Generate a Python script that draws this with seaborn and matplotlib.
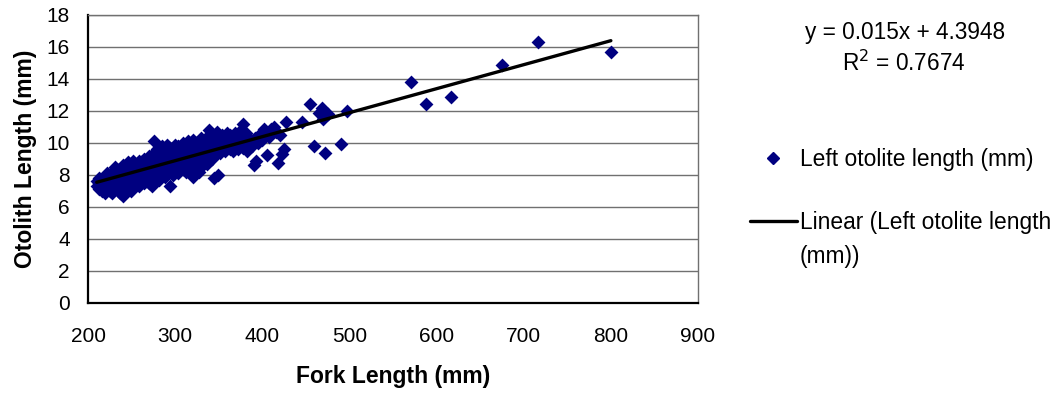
import matplotlib
matplotlib.use("Agg")
import matplotlib.pyplot as plt
from matplotlib.lines import Line2D
import numpy as np
import pandas as pd
import seaborn as sns

# Fork length (mm) and left otolith length (mm) for each fish
fork_length = [
    210, 210, 213, 213, 213, 216, 216, 216, 219, 219, 219,
    222, 222, 222, 222, 225, 225, 225, 225, 228, 228, 228, 228,
    231, 231, 231, 231, 234, 234, 234, 234, 237, 237, 237, 237,
    240, 240, 240, 240, 240, 243, 243, 243, 243, 246, 246, 246, 246, 246,
    249, 249, 249, 249, 252, 252, 252, 252, 252, 255, 255, 255, 255,
    258, 258, 258, 258, 258, 261, 261, 261, 261, 264, 264, 264, 264, 264,
    267, 267, 267, 267, 270, 270, 270, 270, 270, 273, 273, 273, 273, 273,
    276, 276, 276, 276, 276, 279, 279, 279, 279, 279, 282, 282, 282, 282, 282,
    285, 285, 285, 285, 285, 288, 288, 288, 288, 288, 291, 291, 291, 291, 291,
    294, 294, 294, 294, 294, 297, 297, 297, 297, 297, 300, 300, 300, 300, 300,
    303, 303, 303, 303, 303, 306, 306, 306, 306, 306, 309, 309, 309, 309, 309,
    312, 312, 312, 312, 312, 315, 315, 315, 315, 315, 318, 318, 318, 318, 318,
    321, 321, 321, 321, 321, 324, 324, 324, 324, 324, 327, 327, 327, 327, 327,
    330, 330, 330, 330, 330, 333, 333, 333, 333, 336, 336, 336, 336,
    339, 339, 339, 339, 339, 342, 342, 342, 342, 345, 345, 345, 345, 349,
    348, 348, 348, 348, 351, 351, 351, 351, 354, 354, 354,
    357, 357, 357, 357, 360, 360, 360, 363, 363, 363, 366, 366, 366,
    369, 369, 369, 372, 372, 372, 375, 375, 375, 378, 378, 378,
    381, 381, 384, 384, 383, 385, 388, 391, 393, 392, 395, 398, 400,
    402, 405, 408, 410, 413, 416, 418, 420, 423, 425, 427,
    445, 455, 459, 465, 468, 470, 472, 475, 490, 497,
    571, 588, 617, 675, 716, 800,
]
otolith_length = [
    7.6, 7.3, 7.5, 7.1, 7.8, 7.2, 7.6, 7.0, 7.4, 7.9, 6.9,
    7.7, 7.1, 8.1, 7.3, 7.0, 7.5, 8.0, 7.8, 7.2, 7.6, 8.2, 6.9,
    8.5, 7.4, 7.9, 7.1, 7.3, 7.7, 8.1, 8.3, 6.9, 7.5, 8.0, 7.2,
    6.7, 7.1, 7.8, 8.4, 8.6, 7.0, 7.6, 8.2, 7.4, 7.3, 7.9, 8.5, 8.8, 7.1,
    7.0, 7.7, 8.3, 8.0, 7.4, 8.1, 8.7, 7.2, 8.9, 7.6, 8.2, 7.9, 8.6,
    7.3, 8.0, 8.4, 8.9, 7.8, 7.7, 8.3, 8.8, 8.1, 7.5, 8.0, 8.6, 9.0, 8.3,
    7.9, 8.4, 8.9, 7.6, 7.5, 8.2, 8.7, 9.2, 8.0, 7.8, 8.5, 9.1, 7.3, 8.3,
    10.1, 8.1, 8.8, 9.4, 7.6, 7.9, 8.6, 9.2, 8.3, 9.6, 8.2, 8.9, 9.5, 7.7, 8.5,
    8.0, 8.7, 9.3, 9.8, 8.4, 8.3, 9.0, 9.6, 7.9, 8.7, 8.1, 8.8, 9.4, 9.9, 8.5,
    7.3, 8.6, 9.2, 9.7, 8.9, 8.2, 8.9, 9.5, 8.0, 9.1, 8.4, 9.0, 9.6, 9.9, 8.7,
    8.1, 8.8, 9.3, 9.8, 8.5, 8.6, 9.2, 9.7, 8.3, 9.0, 8.4, 8.9, 9.5, 10.0, 8.7,
    8.7, 9.3, 9.8, 8.2, 9.1, 8.5, 9.0, 9.6, 10.1, 8.8, 8.3, 8.9, 9.4, 9.9, 9.2,
    7.9, 8.7, 9.2, 9.7, 10.2, 8.6, 9.1, 9.6, 10.0, 8.4, 8.8, 9.4, 9.9, 9.1, 8.2,
    8.5, 9.2, 9.7, 10.3, 9.0, 8.9, 9.5, 10.1, 9.3, 9.1, 9.7, 10.4, 8.7,
    9.0, 9.6, 10.0, 10.8, 9.3, 9.3, 9.9, 10.5, 9.0, 9.2, 9.8, 10.3, 7.8, 8.0,
    9.5, 10.1, 10.7, 9.4, 9.4, 9.9, 10.4, 9.7, 9.6, 10.2, 10.5,
    9.5, 10.0, 10.4, 9.8, 9.7, 10.3, 10.6, 9.6, 10.1, 10.5, 9.9, 10.4, 9.5,
    9.8, 10.2, 10.6, 10.0, 10.5, 9.6, 9.9, 10.8, 10.3, 10.2, 11.2, 9.7,
    10.0, 10.6, 10.4, 9.8, 9.5, 10.1, 9.8, 8.6, 8.9, 10.3, 10.0, 10.6, 10.2,
    10.9, 9.25, 10.4, 10.9, 11.0, 10.7, 8.75, 10.5, 9.3, 9.6, 11.3,
    11.3, 12.45, 9.8, 11.9, 12.2, 11.5, 9.4, 11.8, 9.95, 12.0,
    13.8, 12.45, 12.9, 14.9, 16.3, 15.7,
]

# Excel linear trendline
slope = 0.015
intercept = 4.3948
r_squared = 0.7674

x_ticks = [200, 300, 400, 500, 600, 700, 800, 900]
y_ticks = [0, 2, 4, 6, 8, 10, 12, 14, 16, 18]

series_name = "Left otolite length (mm)"
trend_name = "Linear (Left otolite length"
trend_name_cont = "(mm))"
marker_color = "#000080"

df = pd.DataFrame({"fork": fork_length, "otolith": otolith_length})
trend_x = np.array([min(fork_length), max(fork_length)])
trend = pd.DataFrame({"fork": trend_x, "otolith": slope * trend_x + intercept})

sns.set_theme(style="white")
plt.rcParams["font.family"] = ["Liberation Sans", "DejaVu Sans"]
plt.rcParams["text.color"] = "black"
plt.rcParams["axes.labelcolor"] = "black"

W, H = 1057, 394
fig = plt.figure(figsize=(W / 100, H / 100), dpi=100)
ax = fig.add_axes([88 / W, 91 / H, 610 / W, 288 / H])

sns.scatterplot(data=df, x="fork", y="otolith", ax=ax, marker="D", s=50,
                color=marker_color, edgecolor=marker_color, linewidth=0,
                legend=False, zorder=3)
sns.lineplot(data=trend, x="fork", y="otolith", ax=ax, color="black",
             linewidth=2.4, legend=False, zorder=4)

ax.set_xlim(200, 900)
ax.set_ylim(0, 18)
ax.set_xticks(x_ticks)
ax.set_yticks(y_ticks)
ax.tick_params(axis="both", labelsize=15, colors="black", labelcolor="black",
               direction="out", length=5, width=1)
ax.tick_params(axis="y", pad=8)
ax.tick_params(axis="x", pad=12)
ax.yaxis.grid(True, color="#707070", linewidth=1)
ax.set_axisbelow(True)
for side in ("top", "right"):
    ax.spines[side].set_color("#707070")
    ax.spines[side].set_linewidth(1)
for side in ("left", "bottom"):
    ax.spines[side].set_color("black")
    ax.spines[side].set_linewidth(1.6)

ax.set_xlabel("Fork Length (mm)", fontsize=16.5, fontweight="bold",
              color="black", labelpad=14)
ax.set_ylabel("Otolith Length (mm)", fontsize=16.5, fontweight="bold",
              color="black", labelpad=7)

fig.text(905 / W, 1 - 32 / H, f"y = {slope}x + {intercept}",
         ha="center", va="center", fontsize=16.3, color="black")
fig.text(904 / W, 1 - 63 / H, f"R$^2$ = {r_squared}",
         ha="center", va="center", fontsize=16.3, color="black")

handles = [
    Line2D([], [], linestyle="none", marker="D", markersize=6,
           color=marker_color, label=series_name),
    Line2D([], [], color="black", linewidth=2.4, label=trend_name),
]
leg = fig.legend(handles=handles, loc="upper left",
                 bbox_to_anchor=(750 / W, 1 - 148 / H), frameon=False,
                 fontsize=16.4, handlelength=2.05, handletextpad=0.15,
                 labelspacing=1.75, borderpad=0, borderaxespad=0,
                 labelcolor="black")
fig.text(800 / W, 1 - 257 / H, trend_name_cont, ha="left", va="center",
         fontsize=16.4, color="black")

fig.savefig("out.png", dpi=100)
